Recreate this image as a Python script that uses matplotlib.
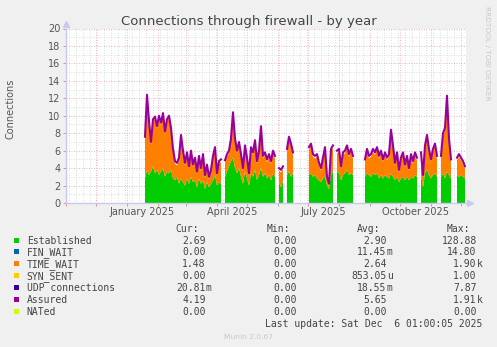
import numpy as np
import pandas as pd
import matplotlib
matplotlib.use('Agg')
import matplotlib.pyplot as plt
import matplotlib.dates as mdates
from matplotlib.patches import Rectangle
from datetime import datetime

W, H = 497, 347
N = np.nan

# one sample every 2 days, starting 2025-01-18; nan = no data
start_day = '2025-01-18'
established = [
    2.8, 3.8, 3.2, 3.6, 4.2, 3.4, 3.8, 3.2, 3.6, 4.0, 3.0, 3.6, 3.4, 3.8, 2.8, 2.6, 3.0, 2.2, 2.8, 2.4,
    2.0, 2.8, 2.2, 3.0, 2.4, 2.6, 1.8, 2.8, 2.2, 2.6, 1.6, 2.4, 1.8, 2.2, 2.6, 3.2, 2.0, 2.4, 2.2, N,
    3.0, 3.6, 4.2, 4.8, 5.2, 4.0, 3.4, 4.0, 3.0, 2.2, 3.6, 2.8, 2.0, 3.4, 3.0, 3.8, 2.6, 3.2, 4.0, 3.0,
    3.4, 2.8, 3.2, 2.6, 3.4, 3.0, N, 2.4, 1.8, 2.6, N, 3.2, 3.6, 3.0, 3.4, N, N, N, N, N, N, N,
    3.2, 3.4, 3.0, 3.2, 2.8, 2.6, 2.4, 2.8, 3.0, 2.0, 1.6, 3.2, 3.6, N,
    3.4, 3.6, 2.6, 3.2, 3.4, 3.8, 3.2, 3.4, 3.2, N, N, N, N, N,
    3.0, 3.4, 3.2, 3.0, 3.4, 3.2, 3.4, 2.8, 3.2, 2.8, 3.2, 3.0, 2.8, 3.4, 3.0, 2.6, 3.0, 2.4, 2.8, 3.0,
    2.6, 3.0, 2.6, 3.0, 2.8, 3.2, 3.0, N,
    3.2, 1.8, 3.4, 3.8, 3.2, 2.8, 3.2, 3.4, 3.0, N,
    3.0, 3.4, 2.8, 3.6, 3.2, 2.8, N, N,
    3.2, 3.0, 3.2, 3.0, 2.8,
]
time_wait = [
    4.5, 8.3, 5.9, 3.1, 5.1, 6.2, 4.7, 6.5, 5.3, 6.0, 4.9, 5.7, 6.3, 4.5, 3.1, 1.9, 1.3, 2.7, 4.7, 3.3,
    2.3, 2.7, 1.7, 2.7, 1.7, 2.3, 1.5, 2.3, 1.5, 2.7, 1.3, 1.7, 0.9, 1.3, 2.5, 2.9, 1.1, 2.1, 2.5, N,
    1.6, 1.7, 1.5, 2.3, 4.9, 3.1, 2.3, 2.7, 2.3, 1.5, 2.7, 2.1, 1.1, 2.7, 2.5, 3.1, 1.9, 2.5, 4.5, 2.1,
    2.1, 1.9, 2.1, 1.9, 2.3, 2.1, N, 1.3, 1.7, 1.3, N, 2.7, 3.7, 3.5, 2.1, N, N, N, N, N, N, N,
    2.9, 3.1, 2.3, 1.9, 2.5, 1.7, 1.3, 2.1, 3.1, 0.7, 0.3, 2.7, 2.7, N,
    2.3, 2.3, 1.3, 2.3, 2.3, 2.5, 2.1, 2.5, 1.9, N, N, N, N, N,
    1.7, 2.5, 1.9, 2.3, 2.5, 2.3, 2.7, 2.3, 2.5, 1.9, 2.3, 1.9, 2.5, 4.7, 3.3, 1.7, 2.5, 1.1, 2.1, 2.5,
    1.5, 2.1, 1.1, 2.3, 1.7, 2.3, 1.9, N,
    2.3, 1.1, 2.9, 3.7, 2.7, 1.9, 2.7, 3.1, 2.1, N,
    2.1, 4.3, 5.5, 8.4, 3.9, 1.9, N, N,
    1.7, 2.3, 1.7, 1.5, 1.1,
]
assured = [
    7.6, 12.4, 9.4, 7.0, 9.6, 9.9, 8.8, 10.0, 9.2, 10.3, 8.2, 9.6, 10.0, 8.6, 6.2, 4.8, 4.6, 5.2, 7.8, 6.0,
    4.6, 5.8, 4.2, 6.0, 4.4, 5.2, 3.6, 5.4, 4.0, 5.6, 3.2, 4.4, 3.0, 3.8, 5.4, 6.4, 3.4, 4.8, 5.0, N,
    4.9, 5.6, 6.0, 7.4, 10.4, 7.4, 6.0, 7.0, 5.6, 4.0, 6.6, 5.2, 3.4, 6.4, 5.8, 7.2, 4.8, 6.0, 8.8, 5.4,
    5.8, 5.0, 5.6, 4.8, 6.0, 5.4, N, 4.0, 3.8, 4.2, N, 6.2, 7.6, 6.8, 5.8, N, N, N, N, N, N, N,
    6.4, 6.8, 5.6, 5.4, 5.6, 4.6, 4.0, 5.2, 6.4, 3.0, 2.2, 6.2, 6.6, N,
    6.0, 6.2, 4.2, 5.8, 6.0, 6.6, 5.6, 6.2, 5.4, N, N, N, N, N,
    5.0, 6.2, 5.4, 5.6, 6.2, 5.8, 6.4, 5.4, 6.0, 5.0, 5.8, 5.2, 5.6, 8.4, 6.6, 4.6, 5.8, 3.8, 5.2, 5.8,
    4.4, 5.4, 4.0, 5.6, 4.8, 5.8, 5.2, N,
    5.8, 3.2, 6.6, 7.8, 6.2, 5.0, 6.2, 6.8, 5.4, N,
    5.4, 8.0, 8.6, 12.3, 7.4, 5.0, N, N,
    5.2, 5.6, 5.2, 4.8, 4.2,
]

quarter_labels = ['January 2025', 'April 2025', 'July 2025', 'October 2025']
quarter_label_days = ['2025-01-16', '2025-04-16', '2025-07-16', '2025-10-16']

legend_names = ['Established', 'FIN_WAIT', 'TIME_WAIT', 'SYN_SENT', 'UDP connections', 'Assured', 'NATed']
legend_colors = ['#00cc00', '#0066b3', '#ff8000', '#ffcc00', '#330099', '#990099', '#ccff00']
legend_cur = ['2.69', '0.00', '1.48', '0.00', '20.81m', '4.19', '0.00']
legend_min = ['0.00', '0.00', '0.00', '0.00', '0.00', '0.00', '0.00']
legend_avg = ['2.90', '11.45m', '2.64', '853.05u', '18.55m', '5.65', '0.00']
legend_max = ['128.88', '14.80', '1.90k', '1.00', '7.87', '1.91k', '0.00']


def px(x, y):
    return x / W, 1 - y / H


# samples sit in the middle of their 2-day bucket
dates = pd.date_range(start_day, periods=len(established), freq='2D') + pd.Timedelta(days=1)
xd = mdates.date2num(dates.to_pydatetime())
e = np.array(established, dtype=float)
t = np.array(time_wait, dtype=float)
a = np.array(assured, dtype=float)

fig = plt.figure(figsize=(W / 100, H / 100), dpi=100, facecolor='#f0f0f0')
ax = fig.add_axes([66 / W, 1 - 203 / H, 400 / W, 174.5 / H])
ax.set_facecolor('white')

ax.fill_between(xd, 0, e, color='#00cc00', lw=0)
ax.fill_between(xd, e, e + t, color='#ff8000', lw=0)
ax.plot(xd, a, color='#990099', lw=1.5)

ax.set_xlim(datetime(2024, 11, 1), datetime(2025, 12, 6))
ax.set_ylim(0, 20)

ax.xaxis.set_major_locator(mdates.MonthLocator())
ax.xaxis.set_minor_locator(mdates.WeekdayLocator(byweekday=mdates.MO))
ax.set_yticks(np.arange(0, 21, 2))
ax.set_yticks(np.arange(1, 20, 2), minor=True)
ax.set_xticklabels([])
ax.set_axisbelow(True)
ax.grid(which='major', color='#e8a0a0', linestyle=(0, (1, 2)), lw=0.6)
ax.grid(which='minor', color='#d4d4d4', linestyle=(0, (1, 2)), lw=0.6)
ax.tick_params(which='major', length=2, width=0.6, color='#e08080', labelsize=7,
               labelcolor='#555555', pad=2)
ax.tick_params(which='minor', length=0)

for s in ['top', 'right']:
    ax.spines[s].set_visible(False)
for s in ['left', 'bottom']:
    ax.spines[s].set_color('#c8c8f0')
    ax.spines[s].set_linewidth(1)
ax.plot([0], [1.025], marker='^', color='#c8c8f0', ms=4, transform=ax.transAxes, clip_on=False)
ax.plot([1.01], [0], marker='>', color='#c8c8f0', ms=4, transform=ax.transAxes, clip_on=False)

for lab, d in zip(quarter_labels, quarter_label_days):
    ax.text(mdates.date2num(pd.Timestamp(d).to_pydatetime()), -0.053, lab, ha='center', va='center',
            fontsize=7, color='#555555', transform=ax.get_xaxis_transform())

fig.text(*px(248.5, 24.5), 'Connections through firewall - by year', ha='center', va='baseline',
         fontsize=9.5, color='#444444')
fig.text(*px(10.3, 109), 'Connections', rotation=90, ha='center', va='center', fontsize=7, color='#555555')
fig.text(*px(487, 53), 'RRDTOOL / TOBI OETIKER', rotation=270, ha='center', va='center',
         fontsize=5.3, color='#c8c8c8')

# legend block
mono = 'DejaVu Sans Mono'
lc = '#444444'
hy = 231.5
for txt, xr in zip(['Cur:', 'Min:', 'Avg:', 'Max:'], [199, 290, 380, 470]):
    fig.text(*px(xr, hy), txt, ha='right', va='baseline', family=mono, fontsize=7, color=lc)

cols = [legend_cur, legend_min, legend_avg, legend_max]
col_x = [205.7, 296.7, 386.7, 476.7]
for i, name in enumerate(legend_names):
    by = 243.5 + 11.95 * i
    fig.add_artist(Rectangle(px(14, by - 1), 5 / W, 5 / H, transform=fig.transFigure,
                             color=legend_colors[i], lw=0))
    fig.text(*px(26.7, by), name, ha='left', va='baseline', family=mono, fontsize=7, color=lc)
    for col, xr in zip(cols, col_x):
        v = col[i]
        suf = v[-1] if v[-1].isalpha() else ''
        num = v[:-1] if suf else v
        fig.text(*px(xr, by), num, ha='right', va='baseline', family=mono, fontsize=7, color=lc)
        if suf:
            fig.text(*px(xr, by), suf, ha='left', va='baseline', family=mono, fontsize=7, color=lc)

fig.text(*px(482.7, 327.1), 'Last update: Sat Dec  6 01:00:05 2025', ha='right', va='baseline',
         family=mono, fontsize=7, color=lc)
fig.text(*px(248, 339), 'Munin 2.0.67', ha='center', va='baseline', fontsize=5.4, color='#c8c8c8')

fig.savefig('out.png', dpi=100, facecolor=fig.get_facecolor())
